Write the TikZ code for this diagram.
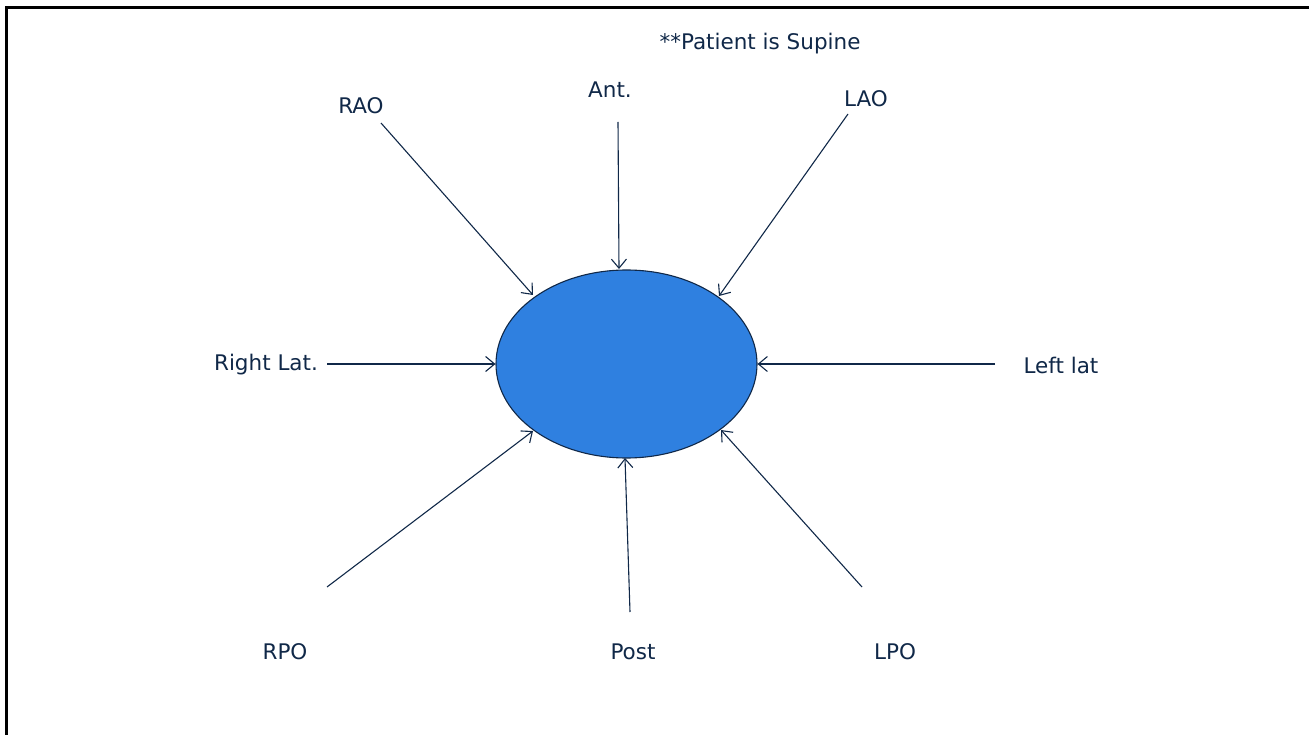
\documentclass[tikz,border=0pt]{standalone}
\usepackage{fontspec}
\setmainfont{DejaVu Sans}
\usetikzlibrary{arrows.meta,shapes.geometric}
\definecolor{navy}{RGB}{16,40,72}
\definecolor{bodyblue}{RGB}{47,128,224}
\begin{document}
\begin{tikzpicture}[x=1pt,y=-1pt,
  lbl/.style={text=navy,font=\fontsize{21.5}{24}\selectfont,inner sep=0pt},
  beam/.style={draw=navy,line width=1.1pt,-{Straight Barb[length=9pt,width=15pt,line width=1.1pt]}}]
\useasboundingbox (0,0) rectangle (1309,735);
% frame
\draw[line width=3pt,black] (6,735) -- (6,8) -- (1309,8);
% patient cross-section
\node[ellipse,draw=navy,line width=1.1pt,fill=bodyblue,minimum width=261pt,minimum height=188pt,inner sep=0pt] (body) at (626.5,364) {};
% labels
\node[lbl] (note) at (760,44) {**Patient is Supine};
\node[lbl] (ant) at (610,90) {Ant.};
\node[lbl] (lao) at (866,99) {LAO};
\node[lbl] (rao) at (361,106) {RAO};
\node[lbl] (rlat) at (266,365) {Right Lat.};
\node[lbl] (llat) at (1061,365) {Left lat};
\node[lbl] (rpo) at (285,652) {RPO};
\node[lbl] (post) at (633,652) {Post};
\node[lbl] (lpo) at (895,652) {LPO};
% beam start points
\coordinate (sRAO) at (381,123);
\coordinate (sAnt) at (618,122);
\coordinate (sLAO) at (848,114);
\coordinate (sRL) at (327,364);
\coordinate (sLL) at (995,364);
\coordinate (sRPO) at (327,587);
\coordinate (sPost) at (630,612);
\coordinate (sLPO) at (862,587);
% beams aimed at the surface of the body
\draw[beam] (sRAO) -- (533,295);
\draw[beam] (sAnt) -- (619,269);
\draw[beam] (sLAO) -- (719,296);
\draw[beam] (sRL) -- (body.west);
\draw[beam] (sLL) -- (body.east);
\draw[beam] (sRPO) -- (533,431);
\draw[beam] (sPost) -- (625,458);
\draw[beam] (sLPO) -- (721,430);
\end{tikzpicture}
\end{document}
